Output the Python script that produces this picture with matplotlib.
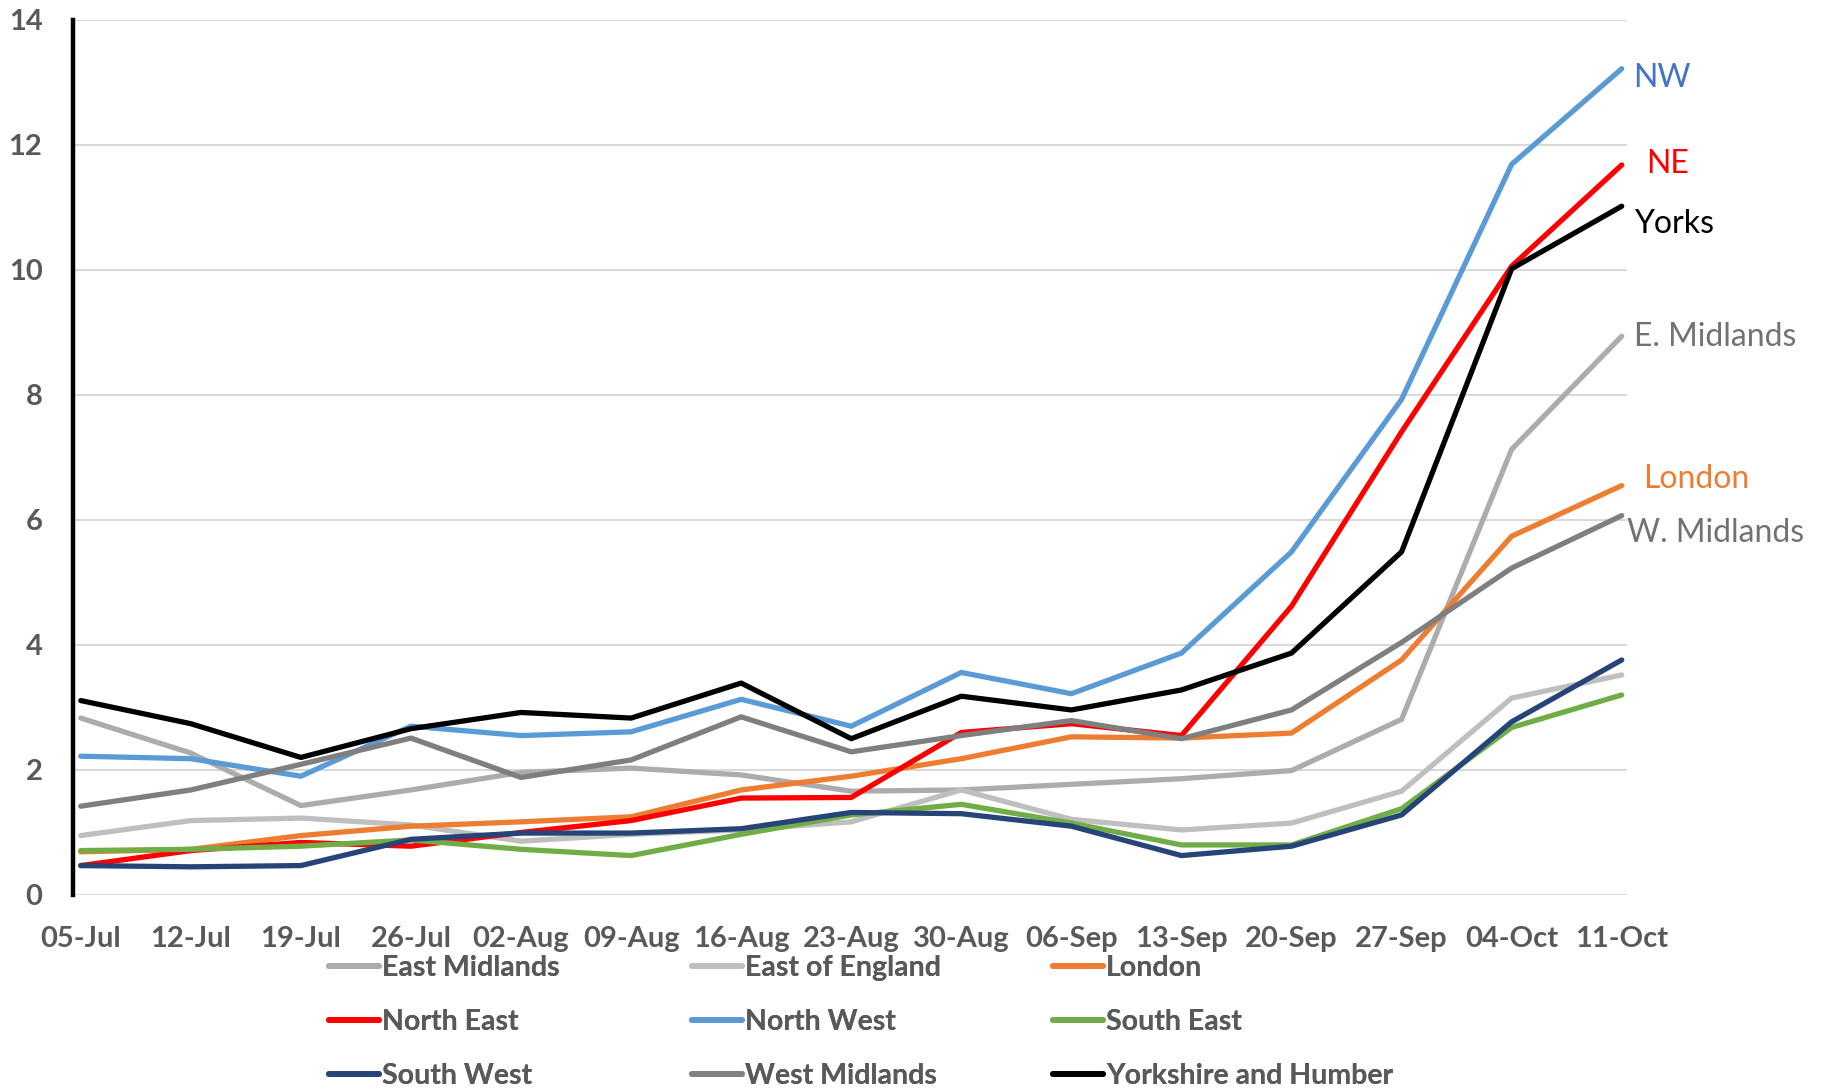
import numpy as np
import matplotlib
matplotlib.use("Agg")
import matplotlib.pyplot as plt

plt.rcParams["font.family"] = ["Lato", "DejaVu Sans"]

weeks = ["05-Jul", "12-Jul", "19-Jul", "26-Jul", "02-Aug", "09-Aug", "16-Aug", "23-Aug",
         "30-Aug", "06-Sep", "13-Sep", "20-Sep", "27-Sep", "04-Oct", "11-Oct"]

east_midlands = [2.83, 2.27, 1.43, 1.68, 1.96, 2.03, 1.92, 1.66, 1.68, 1.77, 1.86, 1.99, 2.81, 7.13, 8.94]
east_of_england = [0.95, 1.19, 1.23, 1.12, 0.86, 0.97, 1.04, 1.17, 1.68, 1.21, 1.04, 1.15, 1.66, 3.15, 3.52]
london = [0.69, 0.73, 0.95, 1.10, 1.17, 1.25, 1.68, 1.90, 2.18, 2.53, 2.51, 2.59, 3.76, 5.74, 6.55]
north_east = [0.47, 0.71, 0.84, 0.78, 1.00, 1.19, 1.55, 1.56, 2.60, 2.74, 2.55, 4.62, 7.41, 10.06, 11.68]
north_west = [2.22, 2.18, 1.90, 2.70, 2.55, 2.61, 3.13, 2.70, 3.56, 3.22, 3.87, 5.49, 7.93, 11.69, 13.22]
south_east = [0.71, 0.73, 0.78, 0.88, 0.73, 0.63, 0.97, 1.28, 1.45, 1.15, 0.80, 0.80, 1.38, 2.68, 3.20]
south_west = [0.47, 0.45, 0.47, 0.89, 0.99, 0.99, 1.06, 1.32, 1.30, 1.10, 0.63, 0.78, 1.28, 2.77, 3.76]
west_midlands = [1.42, 1.68, 2.09, 2.51, 1.88, 2.16, 2.85, 2.29, 2.55, 2.79, 2.50, 2.96, 4.04, 5.23, 6.07]
yorkshire = [3.11, 2.74, 2.20, 2.66, 2.92, 2.83, 3.39, 2.50, 3.18, 2.96, 3.28, 3.87, 5.49, 10.02, 11.02]

series = [
    ("East Midlands", east_midlands, "#AEABAB"),
    ("East of England", east_of_england, "#BFBFBF"),
    ("London", london, "#ED7D31"),
    ("North East", north_east, "#FF0000"),
    ("North West", north_west, "#5B9BD5"),
    ("South East", south_east, "#70AD47"),
    ("South West", south_west, "#264478"),
    ("West Midlands", west_midlands, "#7F7F7F"),
    ("Yorkshire and Humber", yorkshire, "#000000"),
]

# end-of-line labels: text, colour, x offset (in weeks), y position
end_labels = [
    ("NW", "#4472C4", 0.10, 13.07),
    ("NE", "#FF0000", 0.22, 11.70),
    ("Yorks", "#000000", 0.11, 10.73),
    ("E. Midlands", "#767171", 0.11, 8.93),
    ("London", "#ED7D31", 0.19, 6.66),
    ("W. Midlands", "#767171", 0.05, 5.79),
]

text_grey = "#595959"

fig = plt.figure(figsize=(18.22, 10.91), dpi=100)
ax = fig.add_axes([0.0401, 0.1797, 0.853, 0.802])

x = np.arange(len(weeks))
handles = []
for name, vals, col in series:
    ln, = ax.plot(x, vals, color=col, lw=3.8, label=name,
                  solid_capstyle="round", solid_joinstyle="round")
    handles.append(ln)

for txt, col, dx, yv in end_labels:
    ax.text(x[-1] + dx, yv, txt, color=col, fontsize=23, va="center", ha="left", clip_on=False)

ax.set_xlim(-0.07, 14.05)
ax.set_ylim(0, 14)
ax.set_yticks(np.arange(0, 15, 2))
ax.set_xticks(x, labels=weeks)
ax.grid(axis="y", color="#D9D9D9", lw=1.5)
ax.set_axisbelow(True)
for s in ["top", "right", "bottom"]:
    ax.spines[s].set_visible(False)
ax.spines["left"].set_color("black")
ax.spines["left"].set_linewidth(3.2)
ax.tick_params(axis="both", length=0, labelcolor=text_grey, labelsize=21)
ax.tick_params(axis="y", pad=22)
ax.tick_params(axis="x", pad=22)
for lab in ax.get_xticklabels() + ax.get_yticklabels():
    lab.set_fontweight("bold")

# legend laid out as three fixed-width columns
col_x = [0.1805, 0.3797, 0.5778]
for c in range(3):
    hs = handles[c::3]
    leg = fig.legend(handles=hs, labels=[h.get_label() for h in hs],
                     loc="upper left", bbox_to_anchor=(col_x[c], 0.1245),
                     frameon=False, handlelength=1.75, handletextpad=0.12,
                     labelspacing=0.98, borderaxespad=0, borderpad=0,
                     prop={"weight": "bold", "size": 20.5})
    for t in leg.get_texts():
        t.set_color(text_grey)
    for h in leg.legend_handles:
        h.set_linewidth(4.2)
    fig.add_artist(leg)

fig.savefig("out.png", dpi=100)
